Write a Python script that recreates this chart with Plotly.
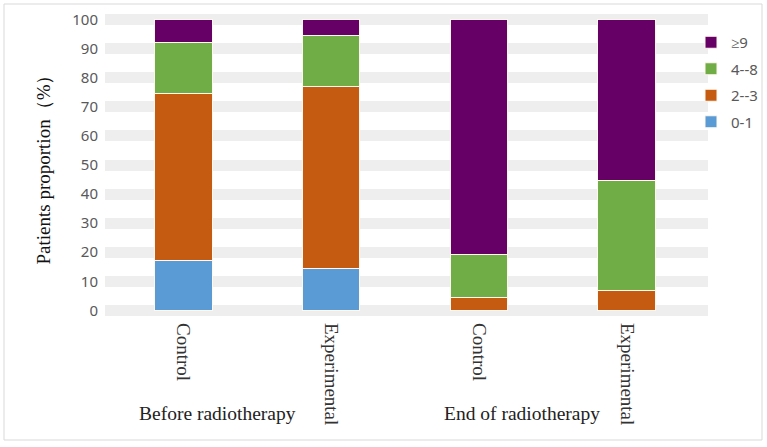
import plotly.graph_objects as go

categories = ["Control", "Experimental", "Control ", "Experimental "]
groups = ["Before radiotherapy", "End of radiotherapy"]
series_names = ["0-1", "2--3", "4--8", "≥9"]
v_0_1 = [17.0, 14.5, 0.0, 0.0]
v_2_3 = [57.5, 62.4, 4.5, 6.9]
v_4_8 = [17.5, 17.6, 14.8, 37.9]
v_9 = [8.0, 5.5, 80.7, 55.2]
y_ticks = [0, 10, 20, 30, 40, 50, 60, 70, 80, 90, 100]

colors = ["#5b9bd5", "#c55a11", "#70ad47", "#660066"]
values = [v_0_1, v_2_3, v_4_8, v_9]

fig = go.Figure()
for i, (name, vals, col) in enumerate(zip(series_names, values, colors)):
    fig.add_trace(go.Bar(
        x=categories, y=vals, name=name, legendgroup=name,
        legendrank=1000 - i,
        marker=dict(color=col, line=dict(color="#fff8ee", width=1)),
        width=0.39,
    ))

W, H = 767, 447
L, R, T, B = 105, 59, 8, 125
pw = W - L - R
ph = H - T - B

def px(x):
    return (x - L) / pw

def py(y):
    return (H - B - y) / ph

fig.update_layout(
    width=W, height=H,
    barmode="stack",
    plot_bgcolor="white", paper_bgcolor="white",
    margin=dict(l=L, r=R, t=T, b=B, autoexpand=False),
    font=dict(family="Liberation Serif", size=17, color="#333333"),
    legend=dict(
        traceorder="grouped",
        x=px(691), y=py(26), xanchor="left", yanchor="top",
        font=dict(family="Noto Sans", size=15, color="#595959"),
        itemwidth=30, tracegroupgap=4,
        bgcolor="rgba(0,0,0,0)",
    ),
    bargap=0.6,
)
fig.update_xaxes(
    range=[-0.53, 3.55],
    tickangle=90,
    tickfont=dict(family="Liberation Serif", size=19, color="#333333"),
    showgrid=False, showline=False, zeroline=False, ticks="",
)
fig.update_yaxes(
    range=[-4, 104],
    tickvals=y_ticks,
    tickfont=dict(family="Noto Sans", size=15, color="#595959"),
    ticklabelstandoff=6,
    showgrid=True, gridcolor="#eeeeee", gridwidth=11,
    zeroline=False, showline=False, ticks="",
    title=dict(text="Patients proportion（%）",
               font=dict(family="Liberation Serif", size=19, color="#111111"),
               standoff=16),
)

fig.add_annotation(text=groups[0], x=px(217), y=py(413), xref="paper", yref="paper",
                   xanchor="center", yanchor="middle",
                   showarrow=False, font=dict(family="Liberation Serif", size=19.5, color="#222222"))
fig.add_annotation(text=groups[1], x=px(522), y=py(413), xref="paper", yref="paper",
                   xanchor="center", yanchor="middle",
                   showarrow=False, font=dict(family="Liberation Serif", size=19.5, color="#222222"))

fig.add_shape(type="rect", xref="paper", yref="paper",
              x0=px(4), x1=px(762), y0=py(440), y1=py(4),
              line=dict(color="#d9d9d9", width=1), layer="below")

fig.write_html("out.html", config={"displayModeBar": False},
               post_script="document.body.style.margin='0';document.body.style.overflow='hidden';")
